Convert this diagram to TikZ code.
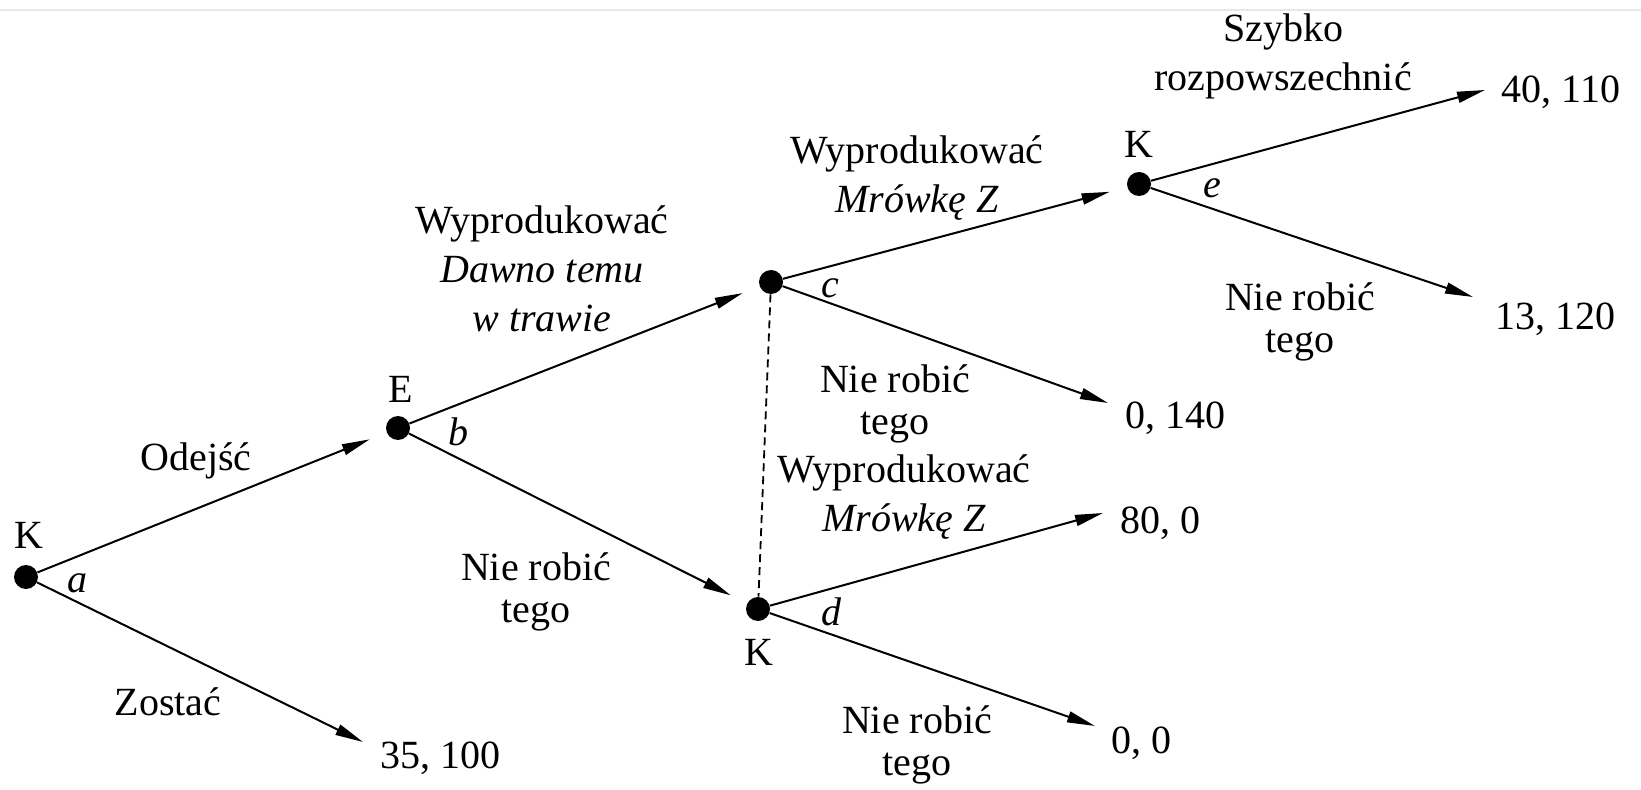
\documentclass[tikz,border=0pt]{standalone}
\usepackage{fontspec}
\setmainfont{Liberation Serif}
\usetikzlibrary{arrows.meta}
\definecolor{toprule}{RGB}{230,230,240}
\begin{document}
\begin{tikzpicture}[x=0.5pt,y=-0.5pt,
  dot/.style={circle,fill=black,inner sep=0pt,minimum size=12pt},
  txt/.style={inner sep=0pt,font=\fontsize{20}{24}\selectfont},
  blk/.style={inner sep=0pt,align=center,anchor=north,font=\fontsize{20}{24.5}\selectfont},
  blks/.style={inner sep=0pt,align=center,anchor=north,font=\fontsize{20}{21}\selectfont},
  lab/.style={txt,anchor=base},
  var/.style={inner sep=0pt,anchor=base,font=\fontsize{20}{24}\selectfont\itshape},
  branch/.style={line width=1pt,-{Triangle[length=14pt,width=5.5pt]}},
  tonode/.style={branch,shorten >=9pt},
  info/.style={line width=0.9pt,dash pattern=on 4pt off 2.5pt}]
\useasboundingbox (0,0) rectangle (1641,790);
\draw[toprule,line width=1pt] (0,10) -- (1641,10);

% decision nodes
\node[dot] (r) at (26,577) {};
\node[dot] (E) at (398,428) {};
\node[dot] (c) at (771,282) {};
\node[dot] (d) at (758,609) {};
\node[dot] (e) at (1139,184) {};

% player labels
\node[lab] (rK) at (29,548) {K};
\node[lab] (EE) at (401,403) {E};
\node[lab] (eK) at (1139,158) {K};
\node[lab] (dK) at (759,665) {K};

% node letters
\node[var] (la) at (77,592) {a};
\node[var] (lb) at (458,445) {b};
\node[var] (lc) at (830,298) {c};
\node[var] (ld) at (831,625) {d};
\node[var] (le) at (1212,198) {e};

% arrow tips of terminal branches
\coordinate (t35) at (363,742);
\coordinate (t0140) at (1108,403);
\coordinate (t800) at (1103,513);
\coordinate (t00) at (1095,726);
\coordinate (t40) at (1485,90);
\coordinate (t13) at (1473,297);

% payoffs
\node[lab] (p35) at (440,768) {35, 100};
\node[lab] (p0140) at (1175,429) {0, 140};
\node[lab] (p800) at (1160,533) {80, 0};
\node[lab] (p00) at (1141,753) {0, 0};
\node[lab] (p40) at (1561,103) {40, 110};
\node[lab] (p13) at (1555,330) {13, 120};

% branches
\draw[tonode] (r) -- (E);
\draw[branch] (r) -- (t35);
\draw[tonode] (E) -- (c);
\draw[tonode] (E) -- (d);
\draw[tonode] (c) -- (e);
\draw[branch] (c) -- (t0140);
\draw[branch] (d) -- (t800);
\draw[branch] (d) -- (t00);
\draw[branch] (e) -- (t40);
\draw[branch] (e) -- (t13);
\draw[info] (c) -- (d);

% action labels
\node[lab] (lOd) at (196,470) {Odejść};
\node[lab] (lZo) at (168,715) {Zostać};
\node[blk] (lDaw) at (542,205) {Wyprodukować\\\textit{Dawno temu}\\\textit{w trawie}};
\node[blks] (lNE) at (536,552) {Nie robić\\tego};
\node[blk] (lMc) at (917,135) {Wyprodukować\\\textit{Mrówkę Z}};
\node[blks] (lNc) at (895,364) {Nie robić\\tego};
\node[blk] (lMd) at (904,454) {Wyprodukować\\\textit{Mrówkę Z}};
\node[blks] (lNd) at (917,705) {Nie robić\\tego};
\node[blk] (lSz) at (1283,13) {Szybko\\rozpowszechnić};
\node[blks] (lNe) at (1300,282) {Nie robić\\tego};
\end{tikzpicture}
\end{document}
